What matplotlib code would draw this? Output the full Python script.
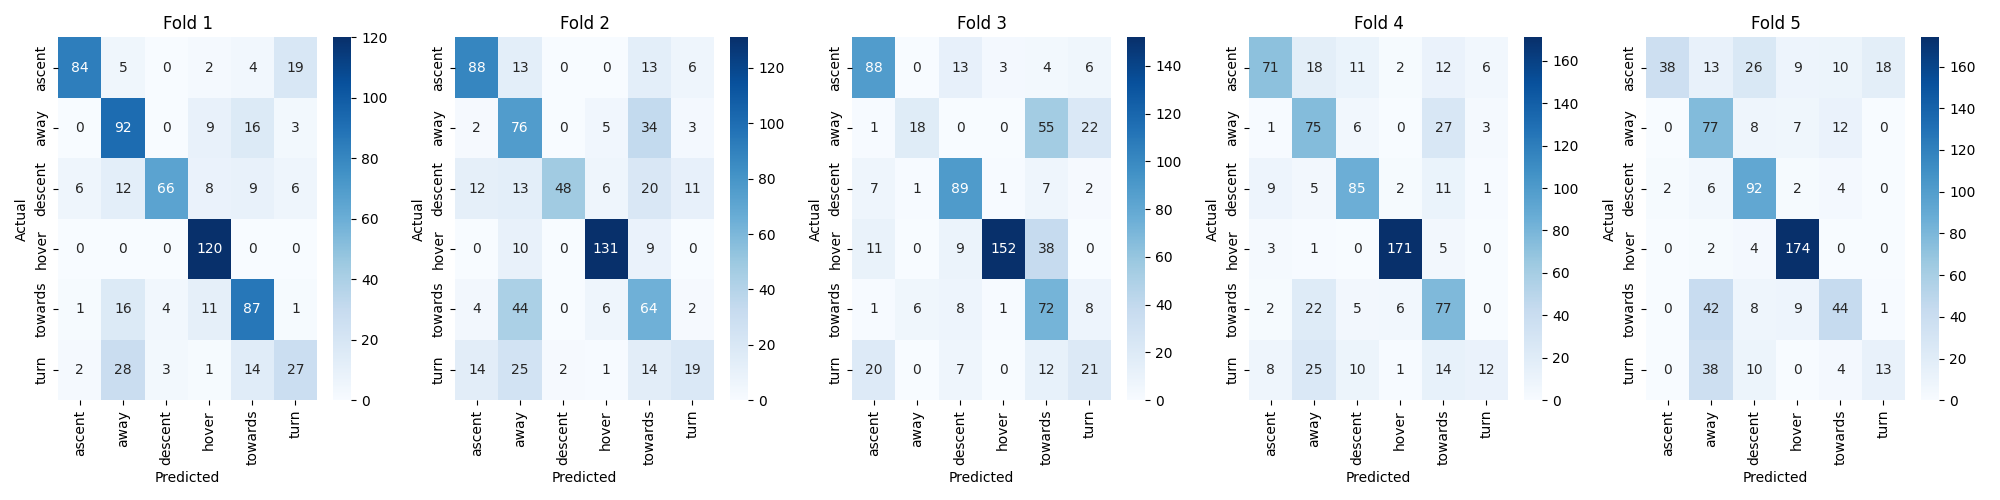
import matplotlib
matplotlib.use("Agg")
import matplotlib.pyplot as plt
import seaborn as sns
import numpy as np

labels = ["ascent", "away", "descent", "hover", "towards", "turn"]

fold1 = [[84, 5, 0, 2, 4, 19],
         [0, 92, 0, 9, 16, 3],
         [6, 12, 66, 8, 9, 6],
         [0, 0, 0, 120, 0, 0],
         [1, 16, 4, 11, 87, 1],
         [2, 28, 3, 1, 14, 27]]
fold2 = [[88, 13, 0, 0, 13, 6],
         [2, 76, 0, 5, 34, 3],
         [12, 13, 48, 6, 20, 11],
         [0, 10, 0, 131, 9, 0],
         [4, 44, 0, 6, 64, 2],
         [14, 25, 2, 1, 14, 19]]
fold3 = [[88, 0, 13, 3, 4, 6],
         [1, 18, 0, 0, 55, 22],
         [7, 1, 89, 1, 7, 2],
         [11, 0, 9, 152, 38, 0],
         [1, 6, 8, 1, 72, 8],
         [20, 0, 7, 0, 12, 21]]
fold4 = [[71, 18, 11, 2, 12, 6],
         [1, 75, 6, 0, 27, 3],
         [9, 5, 85, 2, 11, 1],
         [3, 1, 0, 171, 5, 0],
         [2, 22, 5, 6, 77, 0],
         [8, 25, 10, 1, 14, 12]]
fold5 = [[38, 13, 26, 9, 10, 18],
         [0, 77, 8, 7, 12, 0],
         [2, 6, 92, 2, 4, 0],
         [0, 2, 4, 174, 0, 0],
         [0, 42, 8, 9, 44, 1],
         [0, 38, 10, 0, 4, 13]]

folds = [fold1, fold2, fold3, fold4, fold5]

fig, axes = plt.subplots(1, 5, figsize=(20, 5), dpi=100)
for i, (ax, cm) in enumerate(zip(axes, folds)):
    sns.heatmap(np.array(cm), annot=True, fmt="d", cmap="Blues",
                xticklabels=labels, yticklabels=labels, ax=ax)
    ax.set_title(f"Fold {i + 1}")
    ax.set_xlabel("Predicted")
    ax.set_ylabel("Actual")
plt.tight_layout()
plt.savefig("out.png")
